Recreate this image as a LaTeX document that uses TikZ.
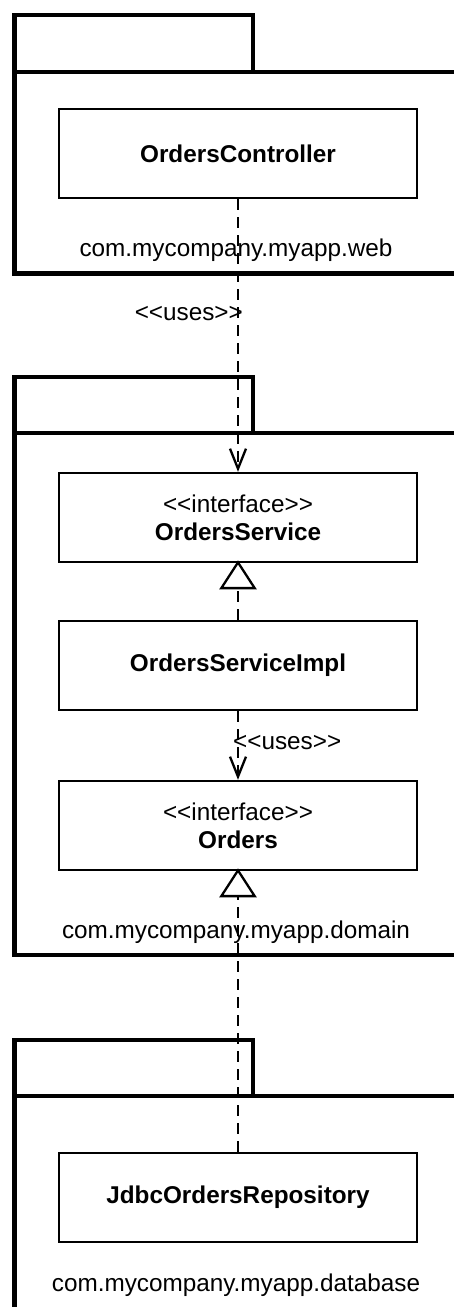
\documentclass[tikz,border=0pt]{standalone}
\usepackage{fontspec}
\newfontfamily\lsans{Liberation Sans}
\usetikzlibrary{arrows.meta}
\tikzset{
  pkg/.style={line width=4.5pt, line join=miter},
  cls/.style={draw, line width=2.5pt, minimum width=358pt, minimum height=89pt, inner sep=0pt,
    font=\lsans\fontsize{24.3}{28}\selectfont, align=center},
  lbl/.style={font=\lsans\fontsize{24.3}{28}\selectfont, inner sep=0pt},
  dep/.style={line width=2.3pt, dash pattern=on 11pt off 7pt,
    -{Straight Barb[length=20pt,width=16pt,line width=2.3pt]}},
  real/.style={line width=2.3pt, dash pattern=on 11pt off 7pt,
    -{Triangle[open,length=29pt,width=37pt,line width=2.3pt,fill=white]}}
}
\begin{document}
\begin{tikzpicture}[x=1pt,y=-1pt]
\useasboundingbox (0,0) rectangle (454,1307);
\clip (0,0) rectangle (454,1307);
\fill[white] (0,0) rectangle (454,1307);
% packages
\draw[pkg] (14.5,72) -- (14.5,15) -- (253,15) -- (253,72);
\draw[pkg] (480,72) -- (14.5,72) -- (14.5,273.5) -- (480,273.5);
\draw[pkg] (14.5,433) -- (14.5,377) -- (253,377) -- (253,433);
\draw[pkg] (480,433) -- (14.5,433) -- (14.5,955) -- (480,955);
\draw[pkg] (14.5,1096) -- (14.5,1040) -- (253,1040) -- (253,1096);
\draw[pkg] (480,1096) -- (14.5,1096) -- (14.5,1330);
% classes
\node[cls] (ctrl) at (238,153.5) {\bfseries OrdersController};
\node[cls] (svc) at (238,517.5) {\textless\textless interface\textgreater\textgreater\\\bfseries OrdersService};
\node[cls] (impl) at (238,665.5) {\bfseries OrdersServiceImpl};
\node[cls] (ord) at (238,825.5) {\textless\textless interface\textgreater\textgreater\\\bfseries Orders};
\node[cls] (jdbc) at (238,1197.5) {\bfseries JdbcOrdersRepository};
% package labels
\node[lbl] (pweb) at (236,250) {com.mycompany.myapp.web};
\node[lbl] (pdom) at (236,932) {com.mycompany.myapp.domain};
\node[lbl] (pdb) at (236,1285) {com.mycompany.myapp.database};
% connectors
\draw[dep] (ctrl.south) -- (svc.north) node[lbl, pos=0.42, left=-6pt] {\textless\textless uses\textgreater\textgreater};
\draw[real] (impl.north) -- ([yshift=3pt]svc.south);
\draw[dep] (impl.south) -- (ord.north) node[lbl, pos=0.45, right=-6pt] {\textless\textless uses\textgreater\textgreater};
\draw[real] (jdbc.north) -- ([yshift=3pt]ord.south);
\end{tikzpicture}
\end{document}
